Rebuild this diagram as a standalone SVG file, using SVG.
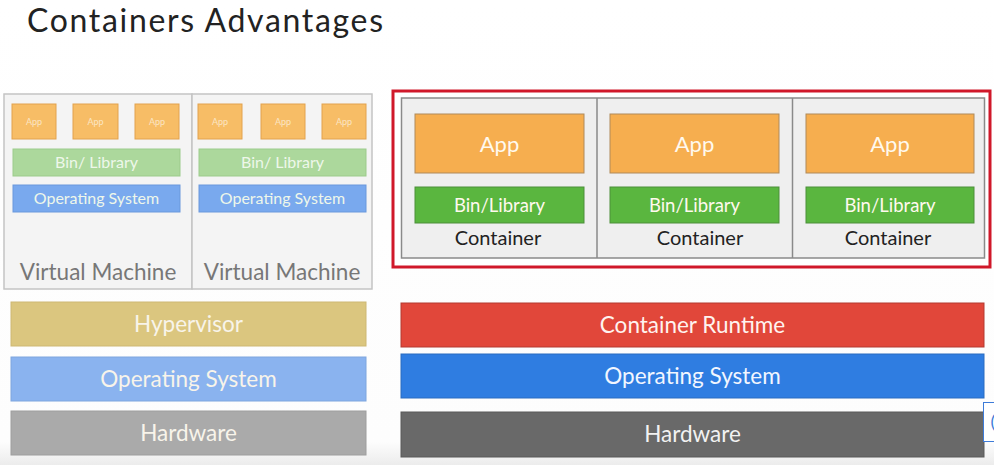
<svg xmlns="http://www.w3.org/2000/svg" width="994" height="465" viewBox="0 0 994 465">
<defs>
<linearGradient id="bg" x1="0" y1="0" x2="0" y2="1">
<stop offset="0" stop-color="#ffffff"/>
<stop offset="0.95" stop-color="#fdfdfd"/>
<stop offset="1" stop-color="#ececec"/>
</linearGradient>
<style>
text{font-family:Lato,"Open Sans","Liberation Sans",sans-serif;text-anchor:middle}
.vm{fill:#f4f4f4;stroke:#c4c4c4;stroke-width:1.5}
.sapp{fill:#f7bd66;stroke:#e2a24e;stroke-width:1}
.sbin{fill:#acd89c;stroke:#9ccb8b;stroke-width:1}
.sos{fill:#79a9ee;stroke:#6a98dc;stroke-width:1}
.st{fill:#fbe6c4;font-size:9px}
.lt{fill:#eef7ea;font-size:16px}
.vt{fill:#777;font-size:22.5px}
.capp{fill:#f6ae4f;stroke:#b08a5a;stroke-width:1}
.cbin{fill:#5ab63f;stroke:#4c8f3a;stroke-width:1}
.wt{fill:#fff9ee}
.bar{stroke-width:1}
.bt{fill:#f8f4ea;font-size:22.5px}
</style>
</defs>
<rect x="0" y="0" width="994" height="465" fill="url(#bg)"/>
<text x="27" y="32" style="text-anchor:start;font-size:32px;fill:#222" textLength="356">Containers Advantages</text>

<g id="vm1">
<rect class="vm" x="4" y="94" width="188" height="195"/>
<rect class="sapp" x="12" y="104" width="44" height="35"/><text class="st" x="34" y="125">App</text>
<rect class="sapp" x="73" y="104" width="45" height="35"/><text class="st" x="95.5" y="125">App</text>
<rect class="sapp" x="135" y="104" width="44" height="35"/><text class="st" x="157" y="125">App</text>
<rect class="sbin" x="13" y="149" width="167" height="27"/><text class="lt" x="96.5" y="168">Bin/ Library</text>
<rect class="sos" x="13" y="185" width="167" height="27"/><text class="lt" x="96.5" y="204">Operating System</text>
<text class="vt" x="98" y="280">Virtual Machine</text>
</g>
<g id="vm2">
<rect class="vm" x="192" y="94" width="180" height="195"/>
<rect class="sapp" x="198" y="104" width="44" height="35"/><text class="st" x="220" y="125">App</text>
<rect class="sapp" x="261" y="104" width="44" height="35"/><text class="st" x="283" y="125">App</text>
<rect class="sapp" x="322" y="104" width="44" height="35"/><text class="st" x="344" y="125">App</text>
<rect class="sbin" x="199" y="149" width="167" height="27"/><text class="lt" x="282.5" y="168">Bin/ Library</text>
<rect class="sos" x="199" y="185" width="167" height="27"/><text class="lt" x="282.5" y="204">Operating System</text>
<text class="vt" x="282" y="280">Virtual Machine</text>
</g>

<g id="hypervisor"><rect class="bar" x="11" y="302" width="355" height="44" fill="#dbc67f" stroke="#cdb874"/><text class="bt" x="188.5" y="332">Hypervisor</text></g>
<g id="os-left"><rect class="bar" x="11" y="357" width="355" height="44" fill="#8ab3ef" stroke="#7fa6de"/><text class="bt" x="188.5" y="387">Operating System</text></g>
<g id="hw-left"><rect class="bar" x="11" y="411" width="355" height="44" fill="#aaaaaa" stroke="#9e9e9e"/><text class="bt" x="188.5" y="441">Hardware</text></g>

<g id="containers">
<rect x="393" y="91" width="597" height="176" fill="#ffffff" stroke="#d0182a" stroke-width="3"/>
<rect x="401.5" y="98" width="583" height="160" fill="#efefef" stroke="#8a8a8a" stroke-width="1.5"/>
<line x1="597" y1="98" x2="597" y2="258" stroke="#8a8a8a" stroke-width="1.5"/>
<line x1="792.5" y1="98" x2="792.5" y2="258" stroke="#8a8a8a" stroke-width="1.5"/>
</g>
<g id="c1">
<rect class="capp" x="415" y="114" width="169" height="59"/><text class="wt" x="499.5" y="152" style="font-size:22px">App</text>
<rect class="cbin" x="415" y="187" width="169" height="36"/><text class="wt" x="499.5" y="212" style="font-size:18.5px">Bin/Library</text>
<text x="498" y="245" style="font-size:20px;fill:#222">Container</text>
</g>
<g id="c2">
<rect class="capp" x="610" y="114" width="169" height="59"/><text class="wt" x="694.5" y="152" style="font-size:22px">App</text>
<rect class="cbin" x="610" y="187" width="169" height="36"/><text class="wt" x="694.5" y="212" style="font-size:18.5px">Bin/Library</text>
<text x="700" y="245" style="font-size:20px;fill:#222">Container</text>
</g>
<g id="c3">
<rect class="capp" x="806" y="114" width="168" height="59"/><text class="wt" x="890" y="152" style="font-size:22px">App</text>
<rect class="cbin" x="806" y="187" width="168" height="36"/><text class="wt" x="890" y="212" style="font-size:18.5px">Bin/Library</text>
<text x="888" y="245" style="font-size:20px;fill:#222">Container</text>
</g>

<g id="runtime"><rect class="bar" x="401" y="303" width="583" height="44" fill="#e1473a" stroke="#b43a30"/><text class="bt" x="692.5" y="333" style="fill:#fff3ef">Container Runtime</text></g>
<g id="os-right"><rect class="bar" x="401" y="354" width="583" height="44" fill="#2f7de1" stroke="#2a6cc0"/><text class="bt" x="692.5" y="384" style="fill:#f2f6ff">Operating System</text></g>
<g id="hw-right"><rect class="bar" x="401" y="412" width="583" height="45" fill="#696969" stroke="#5a5a5a"/><text class="bt" x="692.5" y="442" style="fill:#f2f2f2">Hardware</text></g>

<g id="overlay">
<rect x="983.5" y="402.5" width="14" height="39" fill="#ffffff" stroke="#3d7bd8" stroke-width="1"/>
<text x="993" y="428" style="font-size:18px;fill:#3d7bd8">(</text>
</g>
</svg>
